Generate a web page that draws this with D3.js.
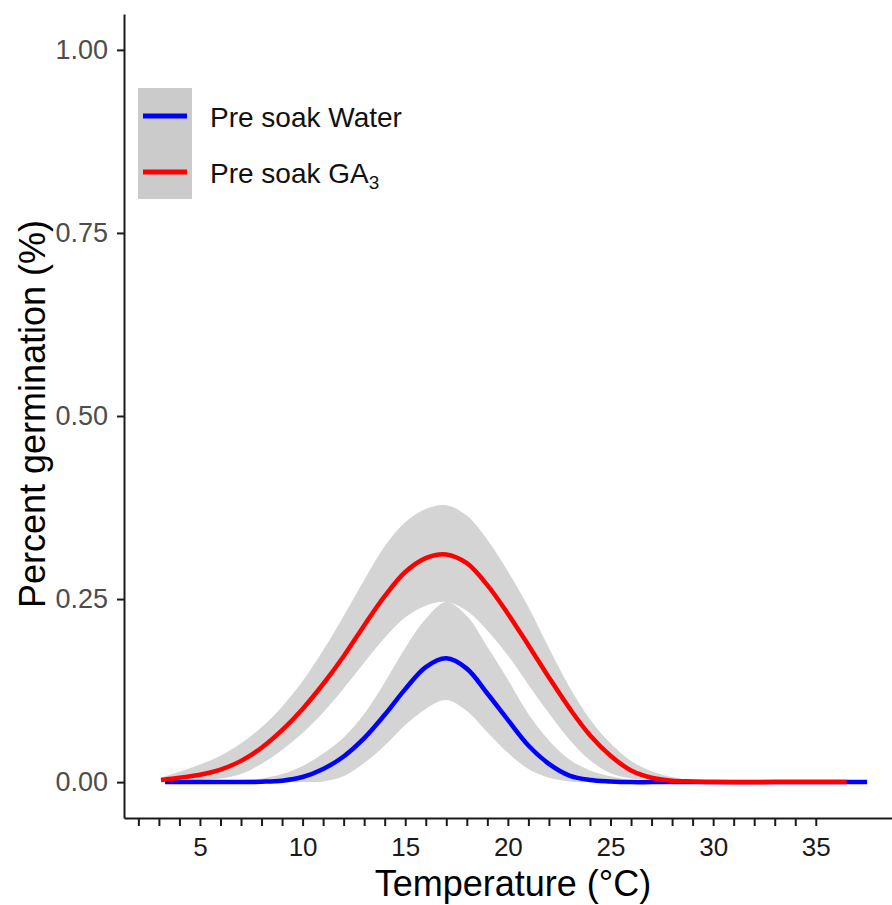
<!DOCTYPE html>
<html>
<head>
<meta charset="utf-8">
<script src="https://cdn.jsdelivr.net/npm/d3@7"></script>
<style>
  body { margin: 0; background: #fff; }
  svg { display: block; font-family: "Liberation Sans", Arial, sans-serif; }
</style>
</head>
<body>
<div id="chart"></div>
<script>
// values
const gaTemp = [3.1, 4, 5, 6, 7, 8, 9, 10, 11, 12, 13, 14, 15, 16, 17, 18, 19, 20, 21, 22, 23, 24, 25, 26, 27, 28, 29, 30, 33, 36.5];
const gaMean = [0.003, 0.006, 0.010, 0.017, 0.029, 0.047, 0.071, 0.100, 0.134, 0.172, 0.214, 0.254, 0.287, 0.306, 0.311, 0.299, 0.269, 0.230, 0.187, 0.143, 0.101, 0.064, 0.036, 0.016, 0.006, 0.002, 0.001, 0, 0, 0];
const gaLow  = [0.001, 0.002, 0.003, 0.005, 0.011, 0.025, 0.044, 0.067, 0.095, 0.128, 0.163, 0.197, 0.225, 0.241, 0.246, 0.234, 0.207, 0.173, 0.133, 0.094, 0.058, 0.030, 0.012, 0.005, 0.002, 0, 0, 0, 0, 0];
const gaHigh = [0.006, 0.014, 0.024, 0.036, 0.053, 0.075, 0.103, 0.138, 0.180, 0.227, 0.276, 0.322, 0.355, 0.373, 0.378, 0.364, 0.331, 0.288, 0.239, 0.183, 0.130, 0.086, 0.053, 0.029, 0.015, 0.007, 0.002, 0, 0, 0];

const waterTemp = [3.3, 4, 5, 6, 7, 8, 9, 10, 11, 12, 13, 14, 15, 16, 17, 18, 19, 20, 21, 22, 23, 24, 25, 26, 27, 28, 29, 30, 33, 37.5];
const waterMean = [0, 0, 0, 0, 0, 0.0005, 0.002, 0.007, 0.018, 0.035, 0.060, 0.092, 0.127, 0.157, 0.169, 0.155, 0.121, 0.085, 0.050, 0.025, 0.009, 0.003, 0.001, 0, 0, 0, 0, 0, 0, 0];
const waterLow  = [0, 0, 0, 0, 0, 0, 0, 0, 0.001, 0.008, 0.026, 0.050, 0.078, 0.100, 0.112, 0.097, 0.068, 0.040, 0.018, 0.006, 0.001, 0, 0, 0, 0, 0, 0, 0, 0, 0];
const waterHigh = [0.001, 0.001, 0.001, 0.002, 0.003, 0.005, 0.011, 0.022, 0.039, 0.061, 0.093, 0.136, 0.183, 0.223, 0.246, 0.227, 0.185, 0.140, 0.093, 0.057, 0.031, 0.016, 0.008, 0.003, 0.001, 0, 0, 0, 0, 0];

const xTicks = d3.range(2, 36);
const xLabels = [5, 10, 15, 20, 25, 30, 35];
const yTicks = [0, 0.25, 0.5, 0.75, 1];

const W = 892, H = 905;

const svg = d3.select("#chart")
    .append("svg")
    .attr("width", W)
    .attr("height", H);

const x = d3.scaleLinear().domain([1.3, 39.2]).range([124, 902]);
const y = d3.scaleLinear().domain([-0.049, 1.049]).range([818, 14]);

function toRows(temp, mean, low, high) {
    return temp.map((t, i) => ({ t, mean: mean[i], low: low[i], high: high[i] }));
}

const series = [
    { name: "water", color: "#0000ff", rows: toRows(waterTemp, waterMean, waterLow, waterHigh) },
    { name: "ga", color: "#ff0000", rows: toRows(gaTemp, gaMean, gaLow, gaHigh) },
];

const smooth = d3.curveCatmullRom.alpha(0.5);

const band = d3.area()
    .x(d => x(d.t))
    .y0(d => y(d.low))
    .y1(d => y(d.high))
    .curve(smooth);

const line = d3.line()
    .x(d => x(d.t))
    .y(d => y(d.mean))
    .curve(smooth);

// ribbons first, then lines on top
svg.append("g")
    .selectAll("path")
    .data(series)
    .join("path")
    .attr("d", s => band(s.rows))
    .attr("fill", "#d4d4d4");

svg.append("g")
    .selectAll("path")
    .data(series)
    .join("path")
    .attr("d", s => line(s.rows))
    .attr("fill", "none")
    .attr("stroke", s => s.color)
    .attr("stroke-width", 4.5);

/* axes */

const xAxis = svg.append("g")
    .attr("transform", `translate(0,${y.range()[0]})`)
    .call(
        d3.axisBottom(x)
            .tickValues(xTicks)
            .tickSize(8)
            .tickSizeOuter(0)
            .tickPadding(12)
            .tickFormat(d => (xLabels.includes(d) ? d : ""))
    );

xAxis.selectAll("text")
    .attr("font-size", 26)
    .attr("fill", "#1a1a1a");

const yAxis = svg.append("g")
    .attr("transform", `translate(${x.range()[0]},0)`)
    .call(
        d3.axisLeft(y)
            .tickValues(yTicks)
            .tickSize(7)
            .tickSizeOuter(0)
            .tickPadding(9)
            .tickFormat(d3.format(".2f"))
    );

yAxis.selectAll("text")
    .attr("font-size", 27)
    .attr("fill", "#4d4d4d");

svg.selectAll(".domain, .tick line")
    .attr("stroke", "#1a1a1a")
    .attr("stroke-width", 2);

svg.append("text")
    .attr("x", (x.range()[0] + x.range()[1]) / 2)
    .attr("y", 896)
    .attr("text-anchor", "middle")
    .attr("font-size", 36)
    .attr("fill", "#000")
    .text("Temperature (°C)");

svg.append("text")
    .attr("transform", "translate(45,414) rotate(-90)")
    .attr("text-anchor", "middle")
    .attr("font-size", 36)
    .attr("fill", "#000")
    .text("Percent germination (%)");

/* legend */

const legend = svg.append("g");

legend.append("rect")
    .attr("x", 138)
    .attr("y", 88)
    .attr("width", 54)
    .attr("height", 111)
    .attr("fill", "#cbcbcb");

const legendRows = [
    { color: "#0000ff", cy: 116, label: "Pre soak Water", sub: null },
    { color: "#ff0000", cy: 172, label: "Pre soak GA", sub: "3" },
];

legendRows.forEach(r => {
    legend.append("line")
        .attr("x1", 143)
        .attr("x2", 187)
        .attr("y1", r.cy)
        .attr("y2", r.cy)
        .attr("stroke", r.color)
        .attr("stroke-width", 5);

    const t = legend.append("text")
        .attr("x", 210)
        .attr("y", r.cy + 11)
        .attr("font-size", 28)
        .attr("fill", "#111")
        .text(r.label);

    if (r.sub) {
        t.append("tspan")
            .attr("dy", 6)
            .attr("font-size", 19)
            .text(r.sub);
    }
});
</script>
</body>
</html>
